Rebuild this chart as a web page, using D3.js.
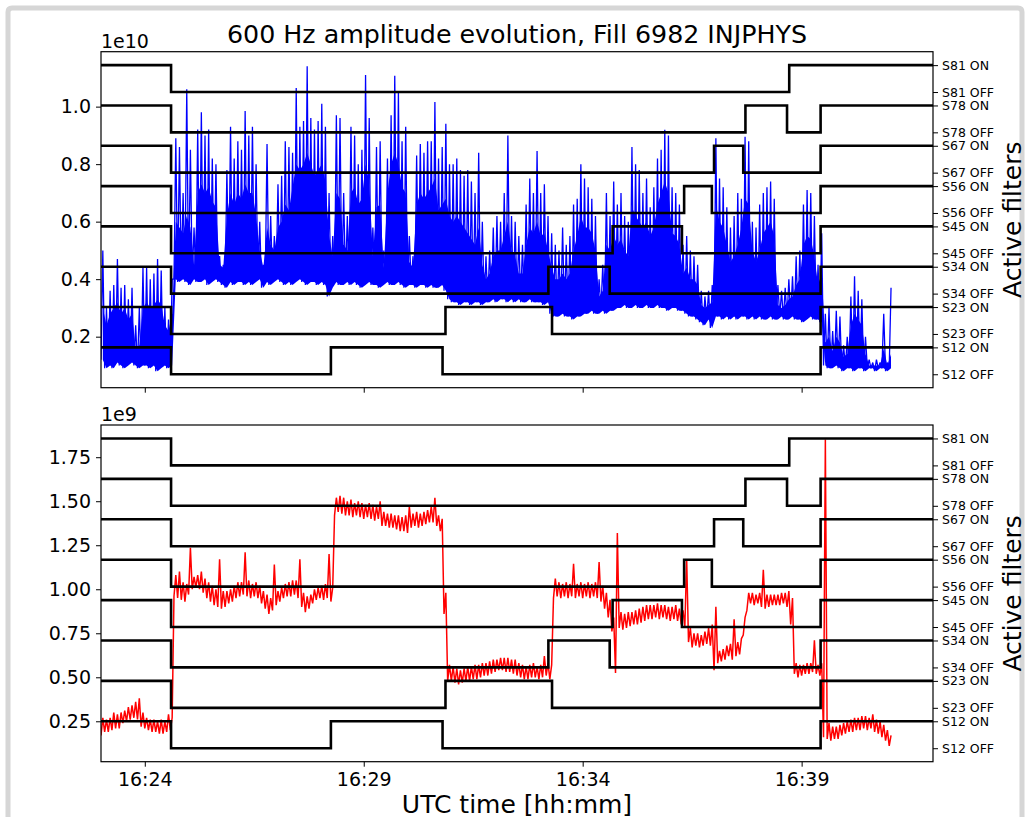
<!DOCTYPE html>
<html><head><meta charset="utf-8">
<script src="https://cdn.jsdelivr.net/npm/d3@7"></script>
<style>
body{margin:0;background:#fff;}
svg{display:block;font-family:"DejaVu Sans",sans-serif;}
</style></head><body>
<svg id="c" width="1028" height="817"></svg>
<script>
// ---------------- DATA ----------------
const titleText = "600 Hz amplitude evolution, Fill 6982 INJPHYS";
const xLabel = "UTC time [hh:mm]";
const rightLabel = "Active filters";
const timeStart = "16:23:00";
const timeEnd = "16:42:00";
const xTickLabels = ["16:24", "16:29", "16:34", "16:39"];
const topTicks = [0.2, 0.4, 0.6, 0.8, 1.0];
const botTicks = [0.25, 0.5, 0.75, 1.0, 1.25, 1.5, 1.75];
const topDomain = [0.0226, 1.191];
const botDomain = [0.0205, 1.933];
const sectors = ["S12", "S23", "S34", "S45", "S56", "S67", "S78", "S81"];
const filterDomain = [-1, 24];

// filter state changes per sector: [time, 1=ON / 0=OFF]
const S12 = [["16:23:00",1],["16:24:36",0],["16:28:15",1],["16:30:48",0],["16:39:26",1]];
const S23 = [["16:23:00",1],["16:24:36",0],["16:30:52",1],["16:33:18",0],["16:39:26",1]];
const S34 = [["16:23:00",1],["16:24:36",0],["16:33:13",1],["16:34:37",0],["16:39:26",1]];
const S45 = [["16:23:00",1],["16:24:36",0],["16:34:41",1],["16:36:16",0],["16:39:26",1]];
const S56 = [["16:23:00",1],["16:24:36",0],["16:36:19",1],["16:36:57",0],["16:39:26",1]];
const S67 = [["16:23:00",1],["16:24:36",0],["16:37:00",1],["16:37:40",0],["16:39:26",1]];
const S78 = [["16:23:00",1],["16:24:36",0],["16:37:43",1],["16:38:40",0],["16:39:26",1]];
const S81 = [["16:23:00",1],["16:24:36",0],["16:38:43",1]];
const filterEvents = [S12, S23, S34, S45, S56, S67, S78, S81];

// amplitude samples every 5 s starting at 16:23:00: min, dense-band top, max
const sampleStepSec = 5;
// top panel (x 1e10)
const blueLo = [0.12,0.09,0.10,0.09,0.11,0.10,0.09,0.10,0.11,0.10,0.09,0.10,0.10,0.09,0.10,0.08,0.09,0.10,0.09,0.10,
0.40,0.39,0.40,0.39,0.38,0.40,0.39,0.39,0.40,0.38,0.39,0.40,0.39,0.38,0.37,0.39,0.38,0.39,0.39,0.38,
0.39,0.38,0.39,0.40,0.37,0.39,0.38,0.39,0.40,0.39,0.38,0.39,0.38,0.39,0.40,0.39,0.38,0.39,0.39,0.38,
0.39,0.38,0.34,0.37,0.39,0.38,0.38,0.39,0.38,0.39,0.38,0.37,0.38,0.39,0.38,0.38,0.37,0.38,0.39,0.38,
0.38,0.39,0.38,0.37,0.38,0.38,0.37,0.38,0.38,0.37,0.38,0.37,0.37,0.38,0.36,0.33,0.32,0.32,0.31,0.32,
0.32,0.31,0.32,0.32,0.31,0.32,0.32,0.33,0.32,0.33,0.33,0.32,0.33,0.32,0.33,0.32,0.32,0.33,0.32,0.32,
0.32,0.31,0.32,0.28,0.27,0.27,0.28,0.27,0.27,0.26,0.27,0.27,0.28,0.28,0.29,0.28,0.28,0.29,0.28,0.29,
0.29,0.30,0.30,0.31,0.30,0.30,0.31,0.30,0.30,0.31,0.30,0.30,0.31,0.30,0.30,0.29,0.30,0.30,0.29,0.29,
0.28,0.27,0.27,0.26,0.25,0.24,0.26,0.23,0.27,0.27,0.26,0.27,0.26,0.27,0.26,0.27,0.27,0.26,0.27,0.26,
0.27,0.26,0.26,0.27,0.26,0.26,0.27,0.26,0.26,0.27,0.26,0.26,0.25,0.26,0.27,0.26,0.26,0.25,0.10,0.09,
0.09,0.10,0.09,0.08,0.09,0.09,0.08,0.09,0.09,0.08,0.09,0.09,0.08,0.09,0.09,0.08,0.09];
const blueBody = [0.30,0.24,0.28,0.30,0.32,0.28,0.30,0.26,0.28,0.16,0.17,0.30,0.32,0.30,0.31,0.33,0.31,0.24,0.22,0.28,
0.60,0.58,0.56,0.62,0.58,0.45,0.70,0.73,0.70,0.72,0.67,0.65,0.45,0.44,0.62,0.70,0.66,0.70,0.68,0.73,
0.70,0.70,0.62,0.50,0.44,0.58,0.52,0.50,0.58,0.60,0.66,0.64,0.72,0.80,0.78,0.80,0.84,0.80,0.76,0.78,
0.80,0.74,0.55,0.48,0.70,0.68,0.52,0.50,0.70,0.72,0.66,0.68,0.80,0.74,0.48,0.65,0.66,0.44,0.70,0.80,
0.84,0.80,0.72,0.70,0.46,0.44,0.66,0.70,0.68,0.70,0.72,0.75,0.64,0.66,0.68,0.62,0.60,0.62,0.60,0.58,
0.56,0.54,0.52,0.58,0.45,0.40,0.42,0.48,0.50,0.50,0.55,0.60,0.50,0.48,0.42,0.42,0.52,0.58,0.56,0.60,
0.55,0.56,0.50,0.44,0.40,0.40,0.42,0.40,0.42,0.50,0.55,0.62,0.58,0.58,0.56,0.50,0.34,0.36,0.52,0.50,
0.55,0.52,0.54,0.50,0.48,0.65,0.62,0.60,0.58,0.60,0.55,0.58,0.66,0.70,0.74,0.70,0.56,0.55,0.52,0.42,
0.44,0.40,0.40,0.38,0.31,0.30,0.31,0.32,0.66,0.60,0.58,0.52,0.46,0.48,0.52,0.58,0.68,0.66,0.50,0.46,
0.50,0.56,0.58,0.60,0.55,0.31,0.30,0.31,0.33,0.34,0.38,0.40,0.52,0.55,0.54,0.48,0.38,0.42,0.18,0.20,
0.15,0.20,0.18,0.13,0.14,0.24,0.28,0.26,0.24,0.14,0.10,0.10,0.10,0.10,0.16,0.10,0.14];
const blueHi = [0.50,0.30,0.36,0.38,0.47,0.37,0.38,0.33,0.37,0.24,0.30,0.44,0.44,0.40,0.42,0.47,0.43,0.30,0.26,0.40,
0.89,0.86,0.70,1.06,0.85,0.58,0.92,0.98,0.90,0.92,0.82,0.80,0.48,0.45,0.78,0.93,0.82,0.88,0.85,0.985,
0.90,0.93,0.80,0.60,0.45,0.87,0.62,0.55,0.73,0.76,0.88,0.86,0.84,1.065,0.93,0.95,1.14,0.96,0.92,0.95,
1.01,0.93,0.70,0.55,0.97,0.96,0.70,0.62,0.93,0.90,0.80,0.85,1.11,0.96,0.58,0.86,0.88,0.50,0.82,0.97,
1.107,1.05,0.88,0.93,0.55,0.48,0.83,0.87,0.84,0.88,0.88,1.016,0.82,0.86,0.94,0.80,0.80,0.82,0.78,0.76,
0.78,0.74,0.70,0.84,0.60,0.48,0.50,0.58,0.62,0.60,0.70,0.90,0.62,0.60,0.55,0.52,0.66,0.75,0.70,0.846,
0.70,0.73,0.62,0.56,0.52,0.50,0.58,0.52,0.55,0.66,0.68,0.80,0.75,0.72,0.68,0.62,0.40,0.45,0.70,0.62,
0.74,0.66,0.70,0.62,0.60,0.86,0.80,0.78,0.70,0.75,0.65,0.72,0.82,0.85,0.92,0.90,0.72,0.70,0.66,0.52,
0.55,0.50,0.48,0.45,0.36,0.34,0.36,0.38,0.89,0.75,0.72,0.65,0.58,0.62,0.70,0.68,0.895,0.88,0.60,0.58,
0.66,0.70,0.72,0.74,0.68,0.38,0.36,0.37,0.40,0.41,0.48,0.50,0.66,0.71,0.70,0.62,0.45,0.56,0.28,0.30,
0.22,0.29,0.27,0.17,0.20,0.34,0.41,0.36,0.33,0.20,0.12,0.11,0.12,0.11,0.28,0.11,0.37];
// bottom panel (x 1e9)
const redLo = [0.17,0.19,0.19,0.20,0.21,0.21,0.24,0.25,0.26,0.27,0.26,0.22,0.21,0.20,0.19,0.19,0.18,0.18,0.19,0.20,
0.96,0.95,0.94,0.93,0.97,1.00,1.01,1.00,0.98,0.95,0.93,0.91,0.90,0.89,0.90,0.92,0.93,0.95,0.96,0.97,
0.96,0.95,0.96,0.95,0.92,0.89,0.86,0.88,0.91,0.93,0.95,0.96,0.96,0.97,0.95,0.90,0.87,0.89,0.92,0.94,
0.95,0.94,0.95,0.93,1.42,1.44,1.43,1.42,1.42,1.41,1.42,1.41,1.40,1.41,1.40,1.39,1.40,1.36,1.36,1.35,
1.35,1.34,1.33,1.33,1.32,1.35,1.36,1.35,1.36,1.37,1.38,1.38,1.36,1.33,0.86,0.48,0.48,0.47,0.46,0.47,
0.48,0.48,0.49,0.49,0.50,0.51,0.51,0.52,0.53,0.54,0.54,0.53,0.53,0.52,0.51,0.50,0.49,0.49,0.50,0.50,
0.49,0.50,0.51,0.49,0.95,0.96,0.95,0.96,0.95,0.96,0.95,0.96,0.95,0.96,0.95,0.96,0.95,0.93,0.89,0.84,
0.76,0.525,0.78,0.77,0.78,0.79,0.80,0.80,0.81,0.82,0.83,0.83,0.84,0.83,0.84,0.83,0.82,0.83,0.82,0.80,
0.79,0.70,0.67,0.68,0.67,0.68,0.69,0.68,0.54,0.58,0.59,0.60,0.62,0.60,0.62,0.63,0.74,0.88,0.92,0.91,
0.92,0.90,0.89,0.90,0.91,0.91,0.91,0.92,0.90,0.80,0.52,0.50,0.51,0.52,0.52,0.53,0.52,0.51,0.16,0.15,
0.14,0.15,0.15,0.17,0.18,0.19,0.19,0.20,0.20,0.21,0.20,0.21,0.19,0.18,0.16,0.14,0.11];
const redHi = [0.27,0.26,0.27,0.30,0.29,0.30,0.31,0.33,0.34,0.36,0.38,0.30,0.27,0.26,0.26,0.25,0.26,0.25,0.29,0.27,
1.08,1.10,1.04,1.03,1.235,1.07,1.08,1.10,1.06,1.04,1.02,1.00,1.17,0.99,0.99,1.00,1.02,1.04,1.04,1.21,
1.05,1.03,1.04,1.02,0.99,0.97,0.95,1.14,0.99,1.01,1.03,1.04,1.05,1.05,1.17,0.98,0.96,0.97,1.00,1.01,
1.02,1.03,1.20,1.01,1.52,1.53,1.52,1.50,1.51,1.49,1.50,1.49,1.48,1.49,1.48,1.47,1.50,1.44,1.43,1.43,
1.42,1.42,1.41,1.42,1.47,1.43,1.44,1.43,1.44,1.45,1.47,1.52,1.42,1.40,0.98,0.57,0.56,0.55,0.54,0.55,
0.56,0.56,0.57,0.57,0.58,0.58,0.59,0.60,0.60,0.61,0.61,0.61,0.60,0.60,0.58,0.57,0.56,0.57,0.58,0.56,
0.57,0.62,0.58,0.57,1.06,1.04,1.03,1.04,1.03,1.145,1.03,1.04,1.03,1.04,1.03,1.04,1.155,1.02,0.98,0.94,
0.84,1.32,0.87,0.86,0.87,0.87,0.88,0.89,0.90,0.91,0.91,0.91,0.92,0.91,0.91,0.90,0.90,0.91,0.89,0.88,
1.17,0.78,0.75,0.75,0.74,0.76,0.78,0.80,0.90,0.65,0.66,0.68,0.69,0.83,0.70,0.72,0.84,0.98,0.98,0.97,
0.98,1.11,0.97,0.97,0.97,0.97,0.98,0.98,0.99,0.95,0.58,0.57,0.57,0.58,0.58,0.71,0.57,0.58,1.85,0.24,
0.22,0.22,0.23,0.24,0.25,0.26,0.27,0.27,0.28,0.28,0.27,0.29,0.26,0.25,0.23,0.20,0.17];

// ---------------- DRAWING ----------------
const parseT = d3.timeParse("%H:%M:%S");
const fmtHM = d3.timeFormat("%H:%M");
const t0 = parseT(timeStart);
const svg = d3.select("#c");

// outer frame of the screenshot
svg.append("path")
  .attr("d", "M8,830 L8,12 Q8,8 12,8 L1018,8 Q1022,8 1022,12 L1022,830")
  .attr("fill", "none").attr("stroke", "#d6d6d6").attr("stroke-width", 5);

const L = 101, R = 933;
const x = d3.scaleTime().domain([parseT(timeStart), parseT(timeEnd)]).range([L, R]);
const xTicks = xTickLabels.map(s => parseT(s + ":00"));

function sampleTime(i, half) {
  return new Date(t0.getTime() + (i * sampleStepSec + (half ? sampleStepSec / 2 : 0)) * 1000);
}

function panel(top, bottom, domain, ticks, tickFmt, expo, lo, body, hi, color, width, showXLabels) {
  const g = svg.append("g");
  const y = d3.scaleLinear().domain(domain).range([bottom, top]);
  const yf = d3.scaleLinear().domain(filterDomain).range([bottom, top]);
  const clip = "clip" + Math.round(top);

  g.append("clipPath").attr("id", clip)
    .append("rect").attr("x", L).attr("y", top).attr("width", R - L).attr("height", bottom - top);

  // dense part of the trace
  if (body) {
    const last = lo.length - 1;
    g.append("path").datum(lo.map((v, i) => i))
      .attr("clip-path", `url(#${clip})`)
      .attr("fill", color).attr("stroke", "none")
      .attr("d", d3.area()
        .x(i => x(sampleTime(i, true)))
        .y0(i => y(lo[i])).y1(i => y(body[i])));
  }

  // amplitude trace: min/max per sample
  const pts = [];
  lo.forEach((v, i) => { pts.push([sampleTime(i, false), v]); pts.push([sampleTime(i, true), hi[i]]); });
  g.append("path").datum(pts)
    .attr("clip-path", `url(#${clip})`)
    .attr("fill", "none").attr("stroke", color).attr("stroke-width", width)
    .attr("stroke-linejoin", "miter").attr("stroke-miterlimit", 2)
    .attr("d", d3.line().x(d => x(d[0])).y(d => y(d[1])));

  // filter step lines
  filterEvents.forEach((ev, k) => {
    const p = ev.map(e => [parseT(e[0]), 3 * k + (e[1] ? 2 : 0)]);
    p.push([parseT(timeEnd), p[p.length - 1][1]]);
    g.append("path").datum(p)
      .attr("clip-path", `url(#${clip})`)
      .attr("fill", "none").attr("stroke", "#000").attr("stroke-width", 2.6)
      .attr("d", d3.line().curve(d3.curveStepAfter).x(d => x(d[0])).y(d => yf(d[1])));
  });

  // frame
  g.append("rect").attr("x", L).attr("y", top).attr("width", R - L).attr("height", bottom - top)
    .attr("fill", "none").attr("stroke", "#000").attr("stroke-width", 1.2);

  // left axis
  const ax = g.append("g").attr("transform", `translate(${L},0)`)
    .call(d3.axisLeft(y).tickValues(ticks).tickFormat(tickFmt).tickSize(5).tickPadding(5).tickSizeOuter(0));
  ax.select(".domain").remove();
  ax.selectAll("text").attr("font-size", 19).attr("font-family", "DejaVu Sans").attr("fill", "#000");
  ax.selectAll("line").attr("stroke", "#000");

  // right axis
  const fTicks = [], fLabels = {};
  sectors.forEach((s, k) => { fTicks.push(3 * k); fLabels[3 * k] = s + " OFF"; fTicks.push(3 * k + 2); fLabels[3 * k + 2] = s + " ON"; });
  const ar = g.append("g").attr("transform", `translate(${R},0)`)
    .call(d3.axisRight(yf).tickValues(fTicks).tickFormat(d => fLabels[d]).tickSize(5).tickPadding(4).tickSizeOuter(0));
  ar.select(".domain").remove();
  ar.selectAll("text").attr("font-size", 12.5).attr("font-family", "DejaVu Sans").attr("fill", "#000");
  ar.selectAll("line").attr("stroke", "#000");

  // bottom axis
  const ab = g.append("g").attr("transform", `translate(0,${bottom})`)
    .call(d3.axisBottom(x).tickValues(xTicks).tickFormat(d => showXLabels ? fmtHM(d) : "").tickSize(5).tickPadding(6).tickSizeOuter(0));
  ab.select(".domain").remove();
  ab.selectAll("text").attr("font-size", 19).attr("font-family", "DejaVu Sans").attr("fill", "#000");
  ab.selectAll("line").attr("stroke", "#000");

  // exponent label
  g.append("text").attr("x", L).attr("y", top - 4).attr("font-size", 19).text(expo);

  // right label
  g.append("text").attr("transform", `translate(1021,${(top + bottom) / 2}) rotate(-90)`)
    .attr("text-anchor", "middle").attr("font-size", 25).text(rightLabel);
}

panel(51.7, 387.7, topDomain, topTicks, d3.format(".1f"), "1e10", blueLo, blueBody, blueHi, "#0000ff", 1.3, false);
panel(425, 761.7, botDomain, botTicks, d3.format(".2f"), "1e9", redLo, null, redHi, "#ff0000", 1.5, true);

svg.append("text").attr("x", (L + R) / 2).attr("y", 43.3).attr("text-anchor", "middle")
  .attr("font-size", 25.3).text(titleText);
svg.append("text").attr("x", (L + R) / 2).attr("y", 813).attr("text-anchor", "middle")
  .attr("font-size", 25).text(xLabel);
</script></body></html>
